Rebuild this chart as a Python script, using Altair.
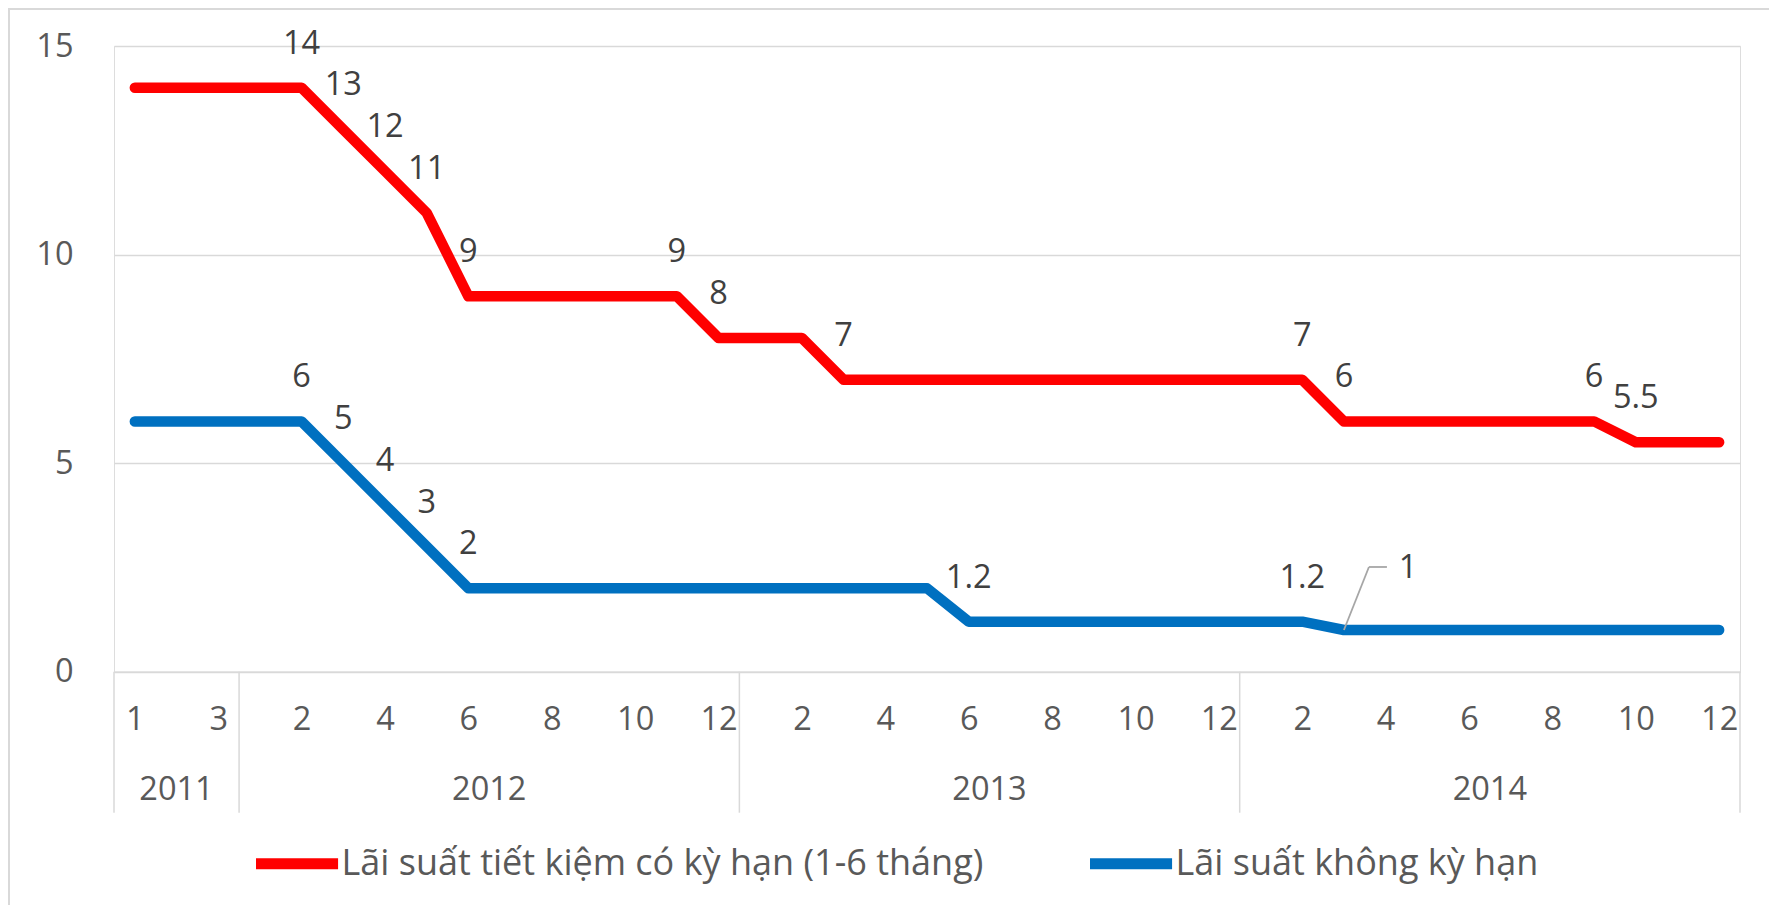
import json
import altair as alt
import pandas as pd

# ---- data ----
years = ["2011", "2011", "2011",
         "2012", "2012", "2012", "2012", "2012", "2012", "2012", "2012", "2012", "2012", "2012", "2012",
         "2013", "2013", "2013", "2013", "2013", "2013", "2013", "2013", "2013", "2013", "2013", "2013",
         "2014", "2014", "2014", "2014", "2014", "2014", "2014", "2014", "2014", "2014", "2014", "2014"]
months = [1, 2, 3,
          1, 2, 3, 4, 5, 6, 7, 8, 9, 10, 11, 12,
          1, 2, 3, 4, 5, 6, 7, 8, 9, 10, 11, 12,
          1, 2, 3, 4, 5, 6, 7, 8, 9, 10, 11, 12]

red_name = "Lãi suất tiết kiệm có kỳ hạn (1-6 tháng)"
blue_name = "Lãi suất không kỳ hạn"

red_values = [14, 14, 14, 14, 14, 13, 12, 11, 9, 9, 9, 9, 9, 9, 8, 8, 8,
              7, 7, 7, 7, 7, 7, 7, 7, 7, 7, 7, 7,
              6, 6, 6, 6, 6, 6, 6, 5.5, 5.5, 5.5]
blue_values = [6, 6, 6, 6, 6, 5, 4, 3, 2, 2, 2, 2, 2, 2, 2, 2, 2, 2, 2, 2,
               1.2, 1.2, 1.2, 1.2, 1.2, 1.2, 1.2, 1.2, 1.2,
               1, 1, 1, 1, 1, 1, 1, 1, 1, 1]

red_label_idx = [4, 5, 6, 7, 8, 13, 14, 17, 28, 29, 35, 36]
blue_label_idx = [4, 5, 6, 7, 8, 20, 28]
blue_leader_idx = [29]

y_ticks = [0, 5, 10, 15]

# ---- tables ----
rows = []
for name, vals, lab_idx, lead_idx in [(red_name, red_values, red_label_idx, []),
                                      (blue_name, blue_values, blue_label_idx, blue_leader_idx)]:
    for i, v in enumerate(vals):
        kind = "normal" if i in lab_idx else ("leader" if i in lead_idx else "none")
        rows.append({"idx": i, "year": years[i], "month": months[i], "series": name,
                     "value": v, "text": f"{v:g}", "lab": kind})
df = pd.DataFrame(rows)

cat = pd.DataFrame({"idx": range(len(years)), "year": years})
year_df = cat.groupby("year", as_index=False).agg(center=("idx", "mean"), lo=("idx", "min"), hi=("idx", "max"))
bounds = sorted(set((year_df["lo"] - 0.5).tolist() + (year_df["hi"] + 0.5).tolist()))
bound_df = pd.DataFrame({"b": bounds})

# ---- style ----
W, H = 1626, 625.7
PAD = {"left": 106, "top": 38, "right": 29, "bottom": 233.3}
FONT = "Open Sans"
AX_COLOR = "#595959"
LAB_COLOR = "#404040"
GRID = "#D9D9D9"
FS = 32.5

x_scale = alt.Scale(domain=[-0.5, len(years) - 0.5], nice=False, zero=False)
y_scale = alt.Scale(domain=[0, 15], nice=False, zero=True)

month_expr = json.dumps([str(m) for m in months]) + "[datum.value]"

x_axis = alt.Axis(values=list(range(0, len(years), 2)), labelExpr=month_expr, title=None,
                  grid=False, ticks=False, tickSize=0, domain=True, domainColor=GRID, domainWidth=1.5,
                  labelFont=FONT, labelFontSize=FS, labelColor=AX_COLOR, labelPadding=47.6,
                  labelBaseline="middle", labelFlush=False, labelOverlap=False, labelBound=False)
y_axis = alt.Axis(values=y_ticks, title=None, grid=True, gridColor=GRID, gridWidth=1.5,
                  domain=False, ticks=False, tickSize=0, labelPadding=41,
                  labelFont=FONT, labelFontSize=FS, labelColor=AX_COLOR)


def X(field):
    return alt.X(field, type="quantitative", scale=x_scale, axis=x_axis, title=None)


def Y(field):
    return alt.Y(field, type="quantitative", scale=y_scale, axis=y_axis, title=None)


base = alt.Chart(df)

lines = base.mark_line(strokeWidth=10.5, strokeCap="round", strokeJoin="round").encode(
    x=X("idx"),
    y=Y("value"),
    color=alt.Color("series:N",
                    scale=alt.Scale(domain=[red_name, blue_name], range=["#FF0000", "#0070C0"]),
                    legend=alt.Legend(title=None, orient="none", legendX=136.5, legendY=774,
                                      direction="horizontal", columns=2,
                                      symbolType="M-1,0L1.16,0", symbolSize=5776, symbolStrokeWidth=11,
                                      labelFont=FONT, labelFontSize=36, labelColor=AX_COLOR,
                                      labelLimit=3000, labelOffset=4, columnPadding=84)),
    order="idx:Q",
)

labels = base.transform_filter(alt.datum.lab == "normal").mark_text(
    dy=-44, font=FONT, fontSize=FS, color=LAB_COLOR, baseline="middle", align="center"
).encode(x=X("idx"), y=Y("value"), text="text:N")

lead_pts = base.transform_filter(alt.datum.lab == "leader")
lead_label = lead_pts.mark_text(
    dx=64, dy=-62, font=FONT, fontSize=FS, color=LAB_COLOR, baseline="middle", align="center"
).encode(x=X("idx"), y=Y("value"), text="text:N")
lead_diag = lead_pts.mark_rule(color="#A6A6A6", strokeWidth=1.8, x2Offset=25, y2Offset=-63).encode(
    x=X("idx"), y=Y("value"), x2="idx:Q", y2="value:Q")
lead_horiz = lead_pts.mark_rule(color="#A6A6A6", strokeWidth=1.8, xOffset=25, yOffset=-63,
                                x2Offset=43, y2Offset=-63).encode(
    x=X("idx"), y=Y("value"), x2="idx:Q", y2="value:Q")

year_text = alt.Chart(year_df).mark_text(
    font=FONT, fontSize=FS, color=AX_COLOR, baseline="middle", align="center"
).encode(x=X("center"), y=alt.value(H + 118.3), text="year:N")

seps = alt.Chart(bound_df).mark_rule(color=GRID, strokeWidth=1.5).encode(
    x=X("b"), y=alt.value(H), y2=alt.value(H + 141))

# outer chart frame (top and left edges, as in the reference)
frame_top = alt.Chart(bound_df).mark_rule(color=GRID, strokeWidth=2).encode(
    x=alt.value(-PAD["left"]), x2=alt.value(W + PAD["right"]), y=alt.value(-PAD["top"] + 1))
frame_left = alt.Chart(bound_df).mark_rule(color=GRID, strokeWidth=2).encode(
    x=alt.value(-PAD["left"] + 1), y=alt.value(-PAD["top"]), y2=alt.value(H + PAD["bottom"]))

chart = alt.layer(frame_top, frame_left, seps, year_text, lines, labels,
                  lead_diag, lead_horiz, lead_label).properties(
    width=W, height=H, autosize=alt.AutoSizeParams(type="none"), padding=PAD,
).configure_view(strokeWidth=0, stroke="transparent").configure_legend(padding=0).configure(background="white")

chart.save("out.html", embed_options={"renderer": "svg", "actions": False})
